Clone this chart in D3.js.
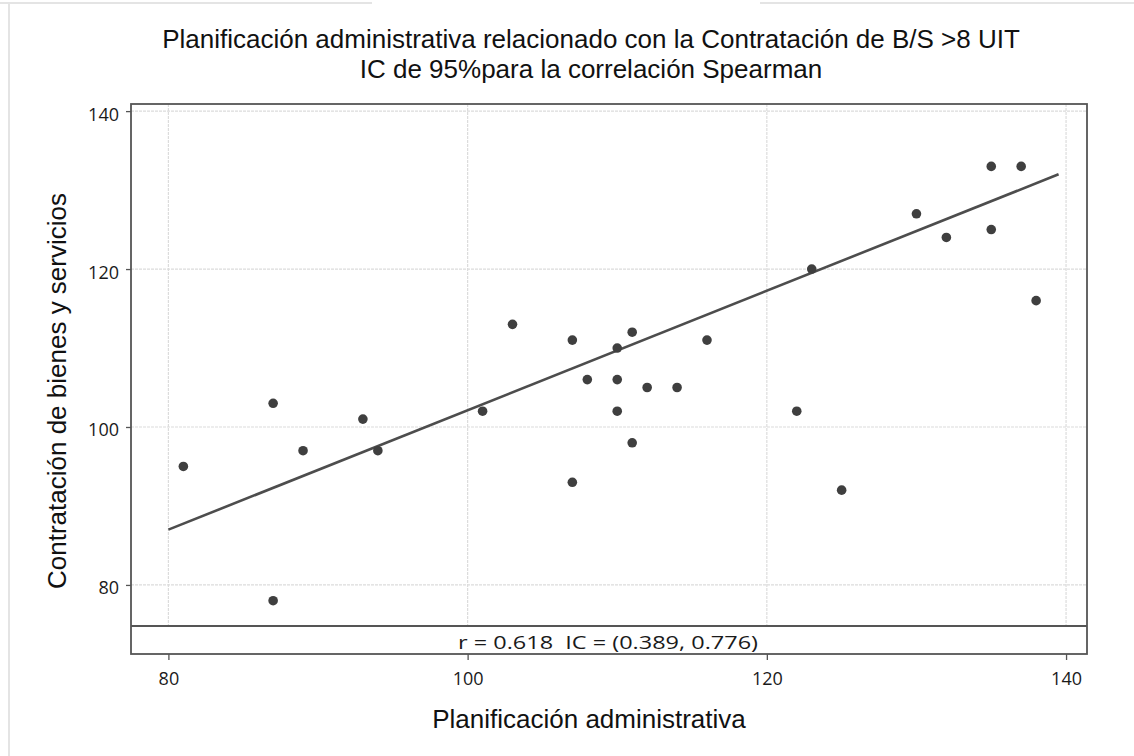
<!DOCTYPE html>
<html>
<head>
<meta charset="utf-8">
<script src="https://cdn.jsdelivr.net/npm/d3@7"></script>
<style>
  body { margin: 0; background: #fff; }
  svg { display: block; }
</style>
</head>
<body>
<svg id="chart"></svg>
<script>
// values
const planificacion = [81, 87, 87, 89, 93, 94, 101, 103, 107, 107, 108, 110, 110, 110,
  111, 111, 112, 114, 116, 122, 123, 125, 130, 132, 135, 135, 137, 138];
const contratacion = [95, 103, 78, 97, 101, 97, 102, 113, 111, 93, 106, 110, 106, 102,
  112, 98, 105, 105, 111, 102, 120, 92, 127, 124, 133, 125, 133, 116];
// fitted line as drawn in the reference
const fitX = [80, 139.5];
const fitY = [87, 132];
const xTicks = [80, 100, 120, 140];
const yTicks = [80, 100, 120, 140];
const titleLines = [
  "Planificación administrativa relacionado con la Contratación de B/S >8 UIT",
  "IC de 95%para la correlación Spearman"
];
const statText = "r = 0.618  IC = (0.389, 0.776)";

const width = 1134;
const height = 756;
const frame = { left: 131, right: 1087, top: 104, bottom: 654 };
const boxTop = 626;

const svg = d3.select("#chart").attr("width", width).attr("height", height);

// faint outer border of the screenshot
svg.append("g").attr("stroke", "#e4e4e4").attr("stroke-width", 2)
  .selectAll("line")
  .data([[9, 4, 9, 756], [0, 3, 372, 3], [760, 3, 1134, 3]])
  .join("line")
  .attr("x1", d => d[0]).attr("y1", d => d[1])
  .attr("x2", d => d[2]).attr("y2", d => d[3]);

const x = d3.scaleLinear().domain([77.5, 141.4]).range([frame.left, frame.right]);
const y = d3.scaleLinear().domain([74.8, 140.9]).range([626, frame.top]);

// grid
svg.append("g")
  .selectAll("line")
  .data(xTicks)
  .join("line")
  .attr("x1", d => x(d)).attr("x2", d => x(d))
  .attr("y1", frame.top).attr("y2", boxTop)
  .attr("stroke", "#dcdcdc").attr("stroke-width", 1.2)
  .attr("stroke-dasharray", "3,1");
svg.append("g")
  .selectAll("line")
  .data(yTicks)
  .join("line")
  .attr("x1", frame.left).attr("x2", frame.right)
  .attr("y1", d => y(d)).attr("y2", d => y(d))
  .attr("stroke", "#dcdcdc").attr("stroke-width", 1.2)
  .attr("stroke-dasharray", "3,1");

// axes
const xAxis = svg.append("g")
  .attr("transform", `translate(0,${frame.bottom})`)
  .call(d3.axisBottom(x).tickValues(xTicks).tickSize(6).tickPadding(12));
const yAxis = svg.append("g")
  .attr("transform", `translate(${frame.left},0)`)
  .call(d3.axisLeft(y).tickValues(yTicks).tickSize(5).tickPadding(7));
[xAxis, yAxis].forEach(g => {
  g.select(".domain").remove();
  g.selectAll(".tick line").attr("stroke", "#555").attr("stroke-width", 1.3);
  g.selectAll(".tick text")
    .attr("font-family", "'Open Sans', sans-serif")
    .attr("font-size", 18)
    .attr("fill", "#1a1a1a");
});
yAxis.selectAll(".tick text").attr("dy", "0.5em");

// fitted line
svg.append("path")
  .datum(fitX.map((d, i) => [d, fitY[i]]))
  .attr("d", d3.line().x(d => x(d[0])).y(d => y(d[1])))
  .attr("fill", "none")
  .attr("stroke", "#4d4d4d")
  .attr("stroke-width", 2.6);

// points
svg.append("g")
  .selectAll("circle")
  .data(planificacion.map((d, i) => [d, contratacion[i]]))
  .join("circle")
  .attr("cx", d => x(d[0]))
  .attr("cy", d => y(d[1]))
  .attr("r", 4.8)
  .attr("fill", "#3f3f3f");

// frame and stat box
svg.append("rect")
  .attr("x", frame.left).attr("y", frame.top)
  .attr("width", frame.right - frame.left)
  .attr("height", frame.bottom - frame.top)
  .attr("fill", "none").attr("stroke", "#555").attr("stroke-width", 1.8);
svg.append("line")
  .attr("x1", frame.left).attr("x2", frame.right)
  .attr("y1", boxTop).attr("y2", boxTop)
  .attr("stroke", "#555").attr("stroke-width", 1.8);
svg.append("text")
  .attr("x", 608)
  .attr("y", 649)
  .attr("text-anchor", "middle")
  .attr("font-family", "'Open Sans', sans-serif")
  .attr("font-size", 19)
  .attr("fill", "#1a1a1a")
  .attr("textLength", 300)
  .attr("lengthAdjust", "spacingAndGlyphs")
  .style("white-space", "pre")
  .text(statText);

// titles
svg.append("g")
  .selectAll("text")
  .data(titleLines)
  .join("text")
  .attr("x", 591)
  .attr("y", (d, i) => 48 + i * 30)
  .attr("text-anchor", "middle")
  .attr("font-family", "'Liberation Sans', Arial, sans-serif")
  .attr("font-size", 26)
  .attr("fill", "#111")
  .text(d => d);

svg.append("text")
  .attr("x", 589)
  .attr("y", 728)
  .attr("text-anchor", "middle")
  .attr("font-family", "'Liberation Sans', Arial, sans-serif")
  .attr("font-size", 26)
  .attr("fill", "#111")
  .text("Planificación administrativa");

svg.append("text")
  .attr("transform", "translate(66,391) rotate(-90)")
  .attr("text-anchor", "middle")
  .attr("font-family", "'Liberation Sans', Arial, sans-serif")
  .attr("font-size", 26)
  .attr("fill", "#111")
  .text("Contratación de bienes y servicios");
</script>
</body>
</html>
